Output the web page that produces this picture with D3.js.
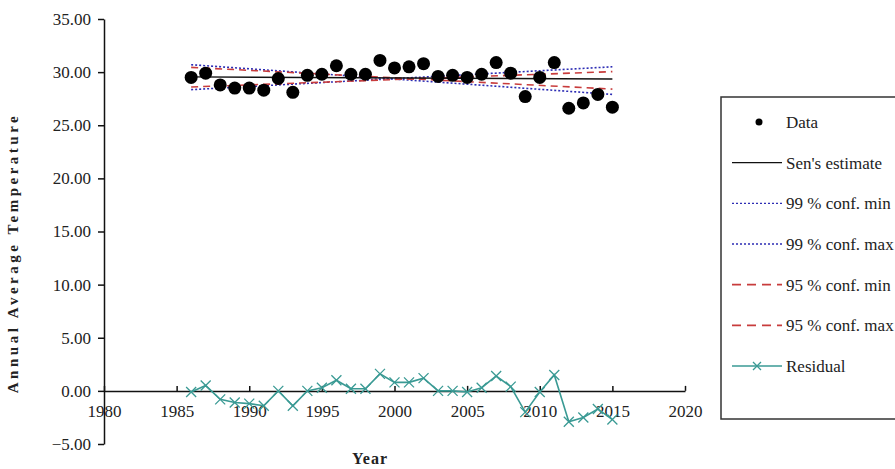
<!DOCTYPE html>
<html>
<head>
<meta charset="utf-8">
<script src="https://cdn.jsdelivr.net/npm/d3@7"></script>
<style>
  body { margin: 0; background: #fff; }
  .axis path, .axis line { stroke: #111; stroke-width: 1.5; }
</style>
</head>
<body>
<svg width="895" height="469"></svg>
<script>
// values
var years = [1986, 1987, 1988, 1989, 1990, 1991, 1992, 1993, 1994, 1995,
             1996, 1997, 1998, 1999, 2000, 2001, 2002, 2003, 2004, 2005,
             2006, 2007, 2008, 2009, 2010, 2011, 2012, 2013, 2014, 2015];
var temps = [29.5, 29.9, 28.8, 28.5, 28.5, 28.3, 29.4, 28.1, 29.7, 29.8,
             30.6, 29.8, 29.8, 31.1, 30.4, 30.5, 30.8, 29.6, 29.7, 29.5,
             29.8, 30.9, 29.9, 27.7, 29.5, 30.9, 26.6, 27.1, 27.9, 26.7];
var residuals = [-0.1, 0.5, -0.8, -1.1, -1.2, -1.4, 0.0, -1.4, 0.0, 0.3,
                 1.0, 0.2, 0.2, 1.6, 0.8, 0.8, 1.2, 0.0, 0.0, -0.1,
                 0.3, 1.4, 0.4, -2.0, -0.1, 1.5, -2.9, -2.5, -1.7, -2.7];

// straight trend lines: value at first and last year
var trendYears = [1986, 2015];
var senEstimate = [29.55, 29.35];
var conf99min = [30.7, 27.9];
var conf99max = [28.35, 30.5];
var conf95min = [30.45, 28.4];
var conf95max = [28.6, 30.05];

var yTicks = [-5, 0, 5, 10, 15, 20, 25, 30, 35];
var xTicks = [1980, 1985, 1990, 1995, 2000, 2005, 2010, 2015, 2020];

var legendLabels = ['Data', "Sen's estimate", '99 % conf. min', '99 % conf. max',
                    '95 % conf. min', '95 % conf. max', 'Residual'];

var serif = '"Liberation Serif", "Times New Roman", serif';
var svg = d3.select('svg');

var x = d3.scaleLinear().domain([1980, 2020]).range([104, 685]);
var y = d3.scaleLinear().domain([-5, 35]).range([444, 19]);

// y axis
var yAxisG = svg.append('g')
    .attr('class', 'axis')
    .attr('transform', 'translate(' + x(1980) + ',0)')
    .call(d3.axisLeft(y)
        .tickValues(yTicks)
        .tickSize(6)
        .tickSizeOuter(0)
        .tickPadding(7)
        .tickFormat(d3.format('.2f')));

// x axis sits on zero, ticks point up
var xAxisG = svg.append('g')
    .attr('class', 'axis')
    .attr('transform', 'translate(0,' + y(0) + ')')
    .call(d3.axisBottom(x)
        .tickValues(xTicks)
        .tickSize(-5)
        .tickSizeOuter(0)
        .tickPadding(14)
        .tickFormat(d3.format('d')));

[yAxisG, xAxisG].forEach(function(g) {
    g.attr('font-family', serif).attr('font-size', 17);
    g.selectAll('text')
        .style('font-family', serif)
        .style('font-size', '17px')
        .style('fill', '#222');
});

// axis titles
svg.append('text')
    .attr('transform', 'translate(18,253) rotate(-90)')
    .attr('text-anchor', 'middle')
    .style('font-family', serif)
    .style('font-size', '15px')
    .style('font-weight', 'bold')
    .style('letter-spacing', '3.5px')
    .style('fill', '#222')
    .text('Annual Average Temperature');

svg.append('text')
    .attr('x', 370)
    .attr('y', 464)
    .attr('text-anchor', 'middle')
    .style('font-family', serif)
    .style('font-size', '16px')
    .style('font-weight', 'bold')
    .style('letter-spacing', '1px')
    .style('fill', '#222')
    .text('Year');

var line = d3.line()
    .x(function(d) { return x(d[0]); })
    .y(function(d) { return y(d[1]); });

function trend(values) {
    return trendYears.map(function(yr, i) { return [yr, values[i]]; });
}

var lineStyles = [
    {values: conf99min, color: '#2d2db4', dash: '2,2', width: 1.6},
    {values: conf99max, color: '#2d2db4', dash: '2,2', width: 1.6},
    {values: conf95min, color: '#c83c3c', dash: '7,5', width: 1.6},
    {values: conf95max, color: '#c83c3c', dash: '7,5', width: 1.6},
    {values: senEstimate, color: '#111', dash: null, width: 1.4}
];

lineStyles.forEach(function(s) {
    svg.append('path')
        .datum(trend(s.values))
        .attr('fill', 'none')
        .attr('stroke', s.color)
        .attr('stroke-width', s.width)
        .attr('stroke-dasharray', s.dash)
        .attr('d', line);
});

// data points
svg.append('g').selectAll('circle')
    .data(years)
    .enter()
    .append('circle')
    .attr('cx', function(d) { return x(d); })
    .attr('cy', function(d, i) { return y(temps[i]); })
    .attr('r', 6.5)
    .attr('fill', '#000');

// residual line with x markers
var teal = '#3a9a94';
svg.append('path')
    .datum(years.map(function(d, i) { return [d, residuals[i]]; }))
    .attr('fill', 'none')
    .attr('stroke', teal)
    .attr('stroke-width', 1.6)
    .attr('d', line);

function cross(g, cx, cy, s) {
    g.append('path')
        .attr('d', 'M' + (cx - s) + ',' + (cy - s) + 'L' + (cx + s) + ',' + (cy + s) +
                   'M' + (cx - s) + ',' + (cy + s) + 'L' + (cx + s) + ',' + (cy - s))
        .attr('stroke', teal)
        .attr('stroke-width', 1.3)
        .attr('fill', 'none');
}

var crossG = svg.append('g');
years.forEach(function(d, i) {
    cross(crossG, x(d), y(residuals[i]), 5);
});

// legend
var legend = svg.append('g');
legend.append('rect')
    .attr('x', 721)
    .attr('y', 97)
    .attr('width', 190)
    .attr('height', 322)
    .attr('fill', '#fff')
    .attr('stroke', '#333')
    .attr('stroke-width', 1.5);

var legendY = d3.scalePoint().domain(legendLabels).range([122, 366]);

legendLabels.forEach(function(label, i) {
    var ly = legendY(label);
    if (i === 0) {
        legend.append('circle').attr('cx', 759).attr('cy', ly).attr('r', 3.5).attr('fill', '#000');
    } else if (i === 6) {
        legend.append('line')
            .attr('x1', 732).attr('x2', 782).attr('y1', ly).attr('y2', ly)
            .attr('stroke', teal).attr('stroke-width', 1.6);
        cross(legend, 757, ly, 4);
    } else {
        var s = lineStyles[[4, 0, 1, 2, 3][i - 1]];
        legend.append('line')
            .attr('x1', 732).attr('x2', 782).attr('y1', ly).attr('y2', ly)
            .attr('stroke', s.color)
            .attr('stroke-width', s.dash === '7,5' ? 1.8 : 1.3)
            .attr('stroke-dasharray', s.dash === '7,5' ? '9,6' : s.dash);
    }
    legend.append('text')
        .attr('x', 786)
        .attr('y', ly)
        .attr('dy', '0.35em')
        .style('font-family', serif)
        .style('font-size', '17px')
        .style('fill', '#222')
        .text(label);
});
</script>
</body>
</html>
